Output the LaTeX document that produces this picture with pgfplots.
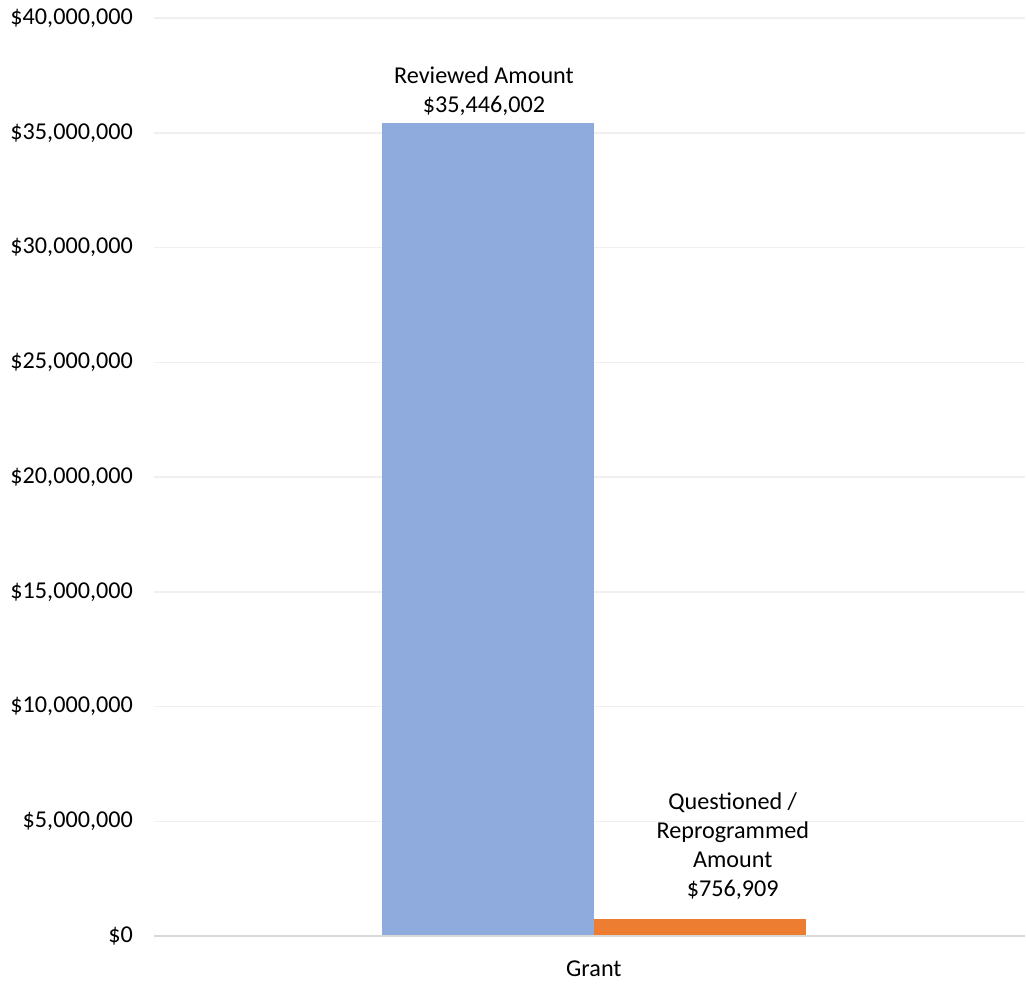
\documentclass[border=0pt]{standalone}
\usepackage{fontspec}
\setmainfont{Carlito}
\usepackage{pgfplots}
\pgfplotsset{compat=1.18}
\definecolor{revblue}{HTML}{8FAADC}
\definecolor{qorange}{HTML}{ED7D31}
\definecolor{gridgray}{HTML}{F0F0F0}
\definecolor{axisgray}{HTML}{D9D9D9}
\newcommand{\chartfont}{\fontsize{12.1}{14.5}\selectfont}
\begin{document}
\begin{tikzpicture}[x=0.5pt,y=0.5pt]
\begin{axis}[
    ybar,
    scale only axis,
    width=436pt, height=459.5pt,
    xmin=-1.01, xmax=0.99,
    ymin=0, ymax=40000000,
    ytick distance=5000000,
    scaled y ticks=false,
    xtick={0}, xticklabels={Grant},
    ymajorgrids,
    grid style={gridgray, line width=0.8pt},
    axis line style={draw=none},
    axis x line*=bottom,
    axis y line*=left,
    major tick length=0pt,
    tick style={draw=none},
    every tick label/.append style={font=\chartfont, text=black},
    yticklabel={\$\pgfmathprintnumber{\tick}},
    /pgf/number format/.cd, fixed, precision=0, 1000 sep={,}, assume math mode=true,
    /pgfplots/.cd,
    yticklabel style={xshift=-7pt},
    xticklabel style={yshift=-9pt},
    bar width=106pt,
    nodes near coords style={font=\chartfont, align=center, text=black},
]
\addplot[fill=revblue, draw=none, bar shift=-53pt,
    nodes near coords={Reviewed Amount\\\$35,446,002},
    every node near coord/.append style={xshift=-2pt}] coordinates {(0,35446002)};
\addplot[fill=qorange, draw=none, bar shift=53pt,
    nodes near coords={Questioned /\\Reprogrammed\\Amount\\\$756,909},
    every node near coord/.append style={xshift=16.5pt, yshift=6pt}] coordinates {(0,756909)};
\draw[axisgray, line width=0.8pt] (rel axis cs:0,0) -- (rel axis cs:1,0);
\end{axis}
\path[use as bounding box] (current axis.south west) ++(-154,-42) rectangle ([yshift=9pt]current axis.north east);
\end{tikzpicture}
\end{document}
